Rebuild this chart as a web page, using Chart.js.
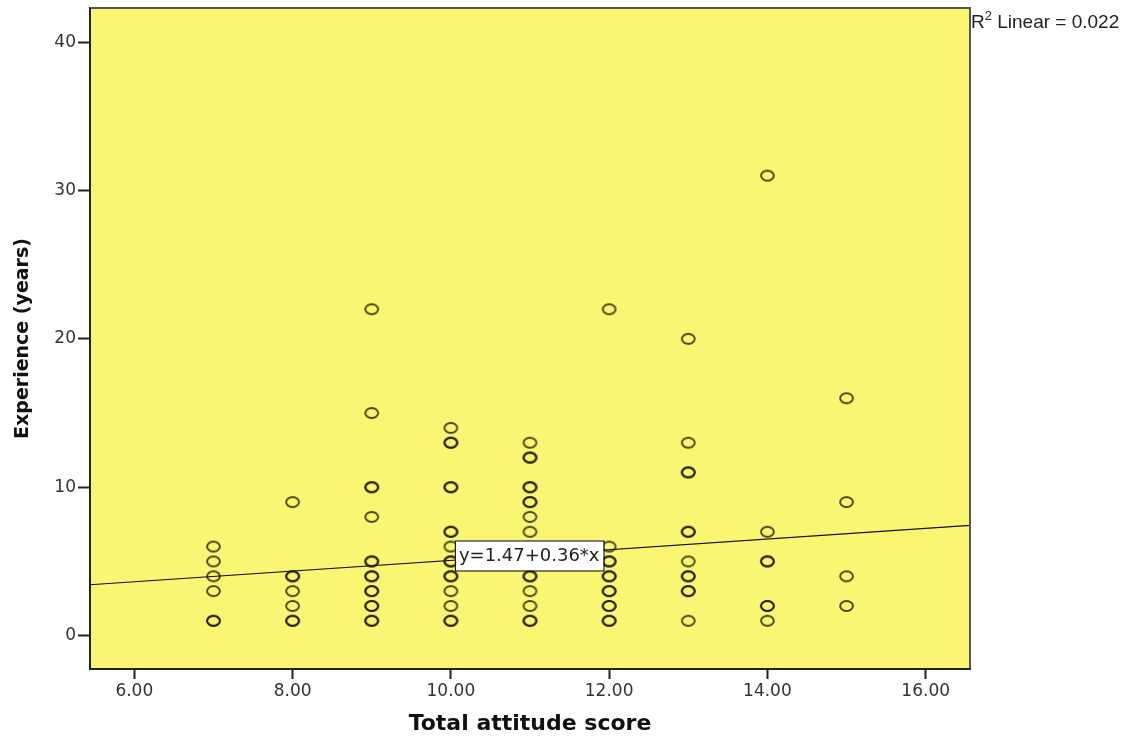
<!DOCTYPE html>
<html>
<head>
<meta charset="utf-8">
<script src="https://cdn.jsdelivr.net/npm/chart.js@4.4.1/dist/chart.umd.min.js"></script>
<style>
  html, body { margin: 0; padding: 0; background: #fff; }
  #wrap { width: 1130px; height: 737px; position: relative; }
</style>
</head>
<body>
<div id="wrap"><canvas id="chart" width="1130" height="737"></canvas></div>
<script>
(function () {
    'use strict'

    // attitude score columns and the experience values read at each one
    const scores = [7, 8, 9, 10, 11, 12, 13, 14, 15];
    const experience = [
        [1, 1, 3, 4, 5, 6],
        [1, 1, 2, 3, 4, 4, 9],
        [1, 1, 2, 2, 3, 3, 4, 4, 5, 5, 8, 10, 10, 15, 22],
        [1, 1, 2, 3, 4, 4, 5, 5, 6, 7, 7, 10, 10, 13, 13, 14],
        [1, 1, 2, 3, 4, 4, 5, 6, 7, 8, 9, 9, 10, 10, 12, 12, 13],
        [1, 1, 2, 2, 3, 3, 4, 4, 5, 5, 6, 22],
        [1, 3, 3, 4, 4, 5, 7, 7, 11, 11, 13, 20],
        [1, 2, 2, 5, 5, 7, 31],
        [2, 4, 9, 16]
    ];
    const intercept = 1.47;
    const slope = 0.36;
    const rSquared = '0.022';
    const xTicks = [6, 8, 10, 12, 14, 16];
    const yTicks = [0, 10, 20, 30, 40];
    const xRange = [5.44, 16.56];
    const yRange = [-2.25, 42.3];
    const labelAt = { x: 10.99, y: 5.4 };

    let points = [];
    scores.forEach(function (s, i) {
        experience[i].forEach(function (v) { points.push({ x: s, y: v }); });
    });
    let fitLine = xRange.map(function (x) { return { x: x, y: intercept + slope * x }; });

    // small elliptical ring used as the marker
    let ring = document.createElement('canvas');
    ring.width = 17; ring.height = 14;
    let rc = ring.getContext('2d');
    rc.strokeStyle = 'rgba(25,25,0,0.8)';
    rc.lineWidth = 1.9;
    rc.beginPath();
    rc.ellipse(8.5, 7, 6.4, 5, 0, 0, Math.PI * 2);
    rc.stroke();

    const yellow = 'rgb(250,245,115)';

    const plotDecor = {
        id: 'plotDecor',
        beforeDatasetsDraw(chart) {
            let a = chart.chartArea, c = chart.ctx;
            c.save();
            c.fillStyle = yellow;
            c.fillRect(a.left, a.top, a.right - a.left, a.bottom - a.top);
            c.restore();
        },
        afterDatasetsDraw(chart) {
            let a = chart.chartArea, c = chart.ctx;
            let xs = chart.scales.x, ys = chart.scales.y;
            c.save();
            // frame
            c.strokeStyle = '#555';
            c.lineWidth = 2;
            c.beginPath();
            c.moveTo(a.left, a.top);
            c.lineTo(a.right, a.top);
            c.lineTo(a.right, a.bottom);
            c.stroke();
            c.strokeStyle = '#222';
            c.beginPath();
            c.moveTo(a.left, a.top);
            c.lineTo(a.left, a.bottom);
            c.lineTo(a.right, a.bottom);
            c.stroke();

            // equation label
            let txt = 'y=' + intercept.toFixed(2) + '+' + slope.toFixed(2) + '*x';
            c.font = '18px "DejaVu Sans"';
            let w = c.measureText(txt).width + 8;
            let h = 30;
            let cx = xs.getPixelForValue(labelAt.x), cy = ys.getPixelForValue(labelAt.y);
            c.fillStyle = '#fff';
            c.fillRect(cx - w / 2, cy - h / 2, w, h);
            c.strokeStyle = '#000';
            c.lineWidth = 1;
            c.strokeRect(cx - w / 2 + 0.5, cy - h / 2 + 0.5, w, h);
            c.fillStyle = '#222';
            c.textAlign = 'center';
            c.textBaseline = 'middle';
            c.fillText(txt, cx, cy + 1);

            // R squared note
            c.textAlign = 'left';
            c.textBaseline = 'alphabetic';
            c.font = '19px "Liberation Sans"';
            let x0 = a.right + 1, y0 = 28;
            c.fillText('R', x0, y0);
            let rw = c.measureText('R').width;
            c.font = '13px "Liberation Sans"';
            c.fillText('2', x0 + rw, y0 - 8);
            let sw = c.measureText('2').width;
            c.font = '19px "Liberation Sans"';
            c.fillText(' Linear = ' + rSquared, x0 + rw + sw, y0);
            c.restore();
        }
    };

    let ctx = document.getElementById('chart');
    new Chart(ctx, {
        type: 'scatter',
        data: {
            datasets: [{
                label: 'Experience',
                data: points,
                pointStyle: ring,
                pointRadius: 6,
                pointHoverRadius: 6
            }, {
                type: 'line',
                label: 'Linear fit',
                data: fitLine,
                borderColor: '#111',
                borderWidth: 1.2,
                pointRadius: 0,
                fill: false
            }]
        },
        options: {
            responsive: false,
            animation: false,
            layout: { padding: { top: 8, right: 160, left: 0, bottom: 0 } },
            plugins: {
                legend: { display: false },
                tooltip: { enabled: false }
            },
            scales: {
                x: {
                    type: 'linear',
                    min: xRange[0],
                    max: xRange[1],
                    afterBuildTicks: function (s) { s.ticks = xTicks.map(function (v) { return { value: v }; }); },
                    afterFit: function (s) { s.height = 68; s.paddingLeft = 0; s.paddingRight = 0; },
                    grid: { display: true, drawOnChartArea: false, tickLength: 10, tickWidth: 2, tickColor: '#222' },
                    border: { display: true, color: '#222', width: 2 },
                    ticks: {
                        padding: 2,
                        color: '#333',
                        font: { family: 'DejaVu Sans', size: 17 },
                        callback: function (v) { return Number(v).toFixed(2); }
                    },
                    title: {
                        display: true,
                        text: 'Total attitude score',
                        color: '#111',
                        font: { family: 'DejaVu Sans', size: 22, weight: 'bold' },
                        padding: { top: 6, bottom: 0 }
                    }
                },
                y: {
                    type: 'linear',
                    min: yRange[0],
                    max: yRange[1],
                    afterBuildTicks: function (s) { s.ticks = yTicks.map(function (v) { return { value: v }; }); },
                    afterFit: function (s) { s.width = 90; s.paddingTop = 0; s.paddingBottom = 0; },
                    grid: { display: true, drawOnChartArea: false, tickLength: 12, tickWidth: 2, tickColor: '#222' },
                    border: { display: true, color: '#222', width: 2 },
                    ticks: {
                        padding: 2,
                        color: '#333',
                        font: { family: 'DejaVu Sans', size: 17 }
                    },
                    title: {
                        display: true,
                        text: 'Experience (years)',
                        color: '#111',
                        font: { family: 'DejaVu Sans', size: 19, weight: 'bold' },
                        padding: { top: 12, bottom: 0 }
                    }
                }
            }
        },
        plugins: [plotDecor]
    });
})()
</script>
</body>
</html>
